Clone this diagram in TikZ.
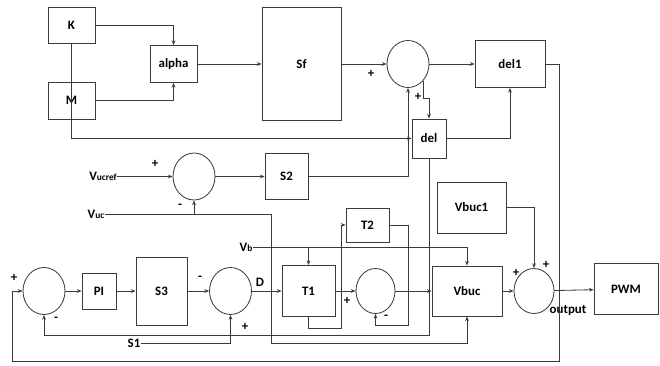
\documentclass[tikz,border=0pt]{standalone}
\usepackage{fontspec}
\setmainfont{Carlito}
\usetikzlibrary{arrows.meta,positioning,shapes.geometric}
\definecolor{lin}{HTML}{3a3a3a}

\begin{document}
\begin{tikzpicture}[x=0.03cm,y=-0.03cm,>={Stealth[length=4pt,width=3.2pt]},
  font=\fontsize{11}{13}\selectfont\bfseries,line width=0.7pt,
  wire/.style={draw=lin,->},
  box/.style 2 args={draw=lin,inner sep=0pt,minimum width=#1*0.03cm,minimum height=#2*0.03cm},
  summ/.style={draw=lin,ellipse,inner sep=0pt,minimum width=42*0.03cm,minimum height=47*0.03cm},
  sgn/.style={inner sep=0pt}]
\useasboundingbox (0,0) rectangle (660,366);
% top part
\node[box={47}{36}] (K) at (71.5,25) {K};
\node[box={47}{37}] (M) at (71.5,100.5) {M};
\node[box={47}{37}] (alpha) at (173.5,64) {alpha};
\node[box={79}{113}] (Sf) at (301.5,64) {Sf};
\node[summ] (sum1) at (408,64) {};
\node[box={70}{47}] (del1) at (510,64) {del1};
\node[box={34}{39}] (del) at (429,138.5) {del};
\node[summ] (sum2) at (194,176.5) {};
\node[box={43}{46}] (S2) at (286.5,176.5) {S2};
\node[sgn] (vucref) at (103,176.5) {V{\footnotesize ucref}};
\node[sgn] (vuc) at (96,214) {V{\footnotesize uc}};
\node[sgn] (vb) at (246,247) {V{\footnotesize b}};
% bottom loop
\node[summ] (sumL) at (44,291) {};
\node[box={34}{36}] (PI) at (99,291) {PI};
\node[box={51}{68}] (S3) at (161.5,291) {S3};
\node[summ] (sumD) at (230.5,291) {};
\node[box={53}{51}] (T1) at (308.5,291) {T1};
\node[summ,minimum width=39*0.03cm,minimum height=45*0.03cm] (sum3) at (375.5,291) {};
\node[box={43}{34}] (T2) at (367.5,225) {T2};
\node[box={70}{50}] (Vbuc) at (467,291) {Vbuc};
\node[box={69}{51}] (Vbuc1) at (471.5,207.5) {Vbuc1};
\node[summ,minimum width=40*0.03cm,minimum height=45*0.03cm] (sumO) at (534,291) {};
\node[box={64}{51}] (PWM) at (626,289) {PWM};
\node[sgn] (s1) at (134,343) {S1};
% signs
\node[sgn] (p1) at (371,74) {+};
\node[sgn] (p2) at (418,97) {+};
\node[sgn] (p3) at (155,164) {+};
\node[sgn] (m3) at (180,206) {-};
\node[sgn] (p4) at (14,278) {+};
\node[sgn] (m4) at (56,319) {-};
\node[sgn] (m5) at (200,278) {-};
\node[sgn] (p5) at (245,327) {+};
\node[sgn] (dd) at (260,282) {D};
\node[sgn] (p6) at (347,301) {+};
\node[sgn] (m6) at (386,317) {-};
\node[sgn] (p7) at (516,273) {+};
\node[sgn] (p8) at (546,265) {+};
\node[sgn] (out) at (568,310) {output};
\coordinate (fbR) at (559,361);
\coordinate (fbL) at (12,361);
\coordinate (dlB) at (44,335);
\coordinate (vucC) at (271,343);
\coordinate (t1B) at (341,328);
\coordinate (t2R) at (408,325);
% connectors
\draw[wire] (K.east) -| (alpha.north);
\draw[wire] (M.east) -| (alpha.south);
\draw[wire] (alpha) -- (Sf);
\draw[wire] (Sf) -- (sum1);
\draw[wire] (sum1) -- (del1);
\draw[wire] (K.south) |- (del.west);
\draw[wire] (sum1.-48) -- ++(0,18) -| (del.north);
\draw[wire] (S2) -| (sum1.south);
\draw[wire] (del) -| (del1.south);
\draw[wire] (del1.east) -| (fbR) -- (fbL) |- (sumL.west);
\draw[wire] (del.south) |- (dlB) -- (sumL.south);
\draw[wire] (vucref) -- (sum2);
\draw[wire] (sum2) -- (S2);
\draw[wire] (vuc.east) -| (vucC) -| (Vbuc.south);
\draw[wire] (sum2.south |- vuc.east) -- (sum2.south);
\draw[wire] (vb.east) -| (Vbuc.north);
\draw[wire] (T1.north |- vb.east) -- (T1.north);
\draw[wire] (sumL) -- (PI);
\draw[wire] (PI) -- (S3);
\draw[wire] (S3) -- (sumD);
\draw[wire] (sumD) -- (T1);
\draw[wire] (T1) -- (sum3);
\draw[wire] (sum3) -- (Vbuc);
\draw[wire] (Vbuc) -- (sumO);
\draw[wire] (sumO) -- (PWM);
\draw[wire] (s1.east) -| (sumD.south);
\draw[wire] (T1.south) |- (t1B) |- (T2.west);
\draw[wire] (T2.east) -| (t2R) -| (sum3.south);
\draw[wire] (Vbuc1.east) -| (sumO.north);
\end{tikzpicture}
\end{document}
